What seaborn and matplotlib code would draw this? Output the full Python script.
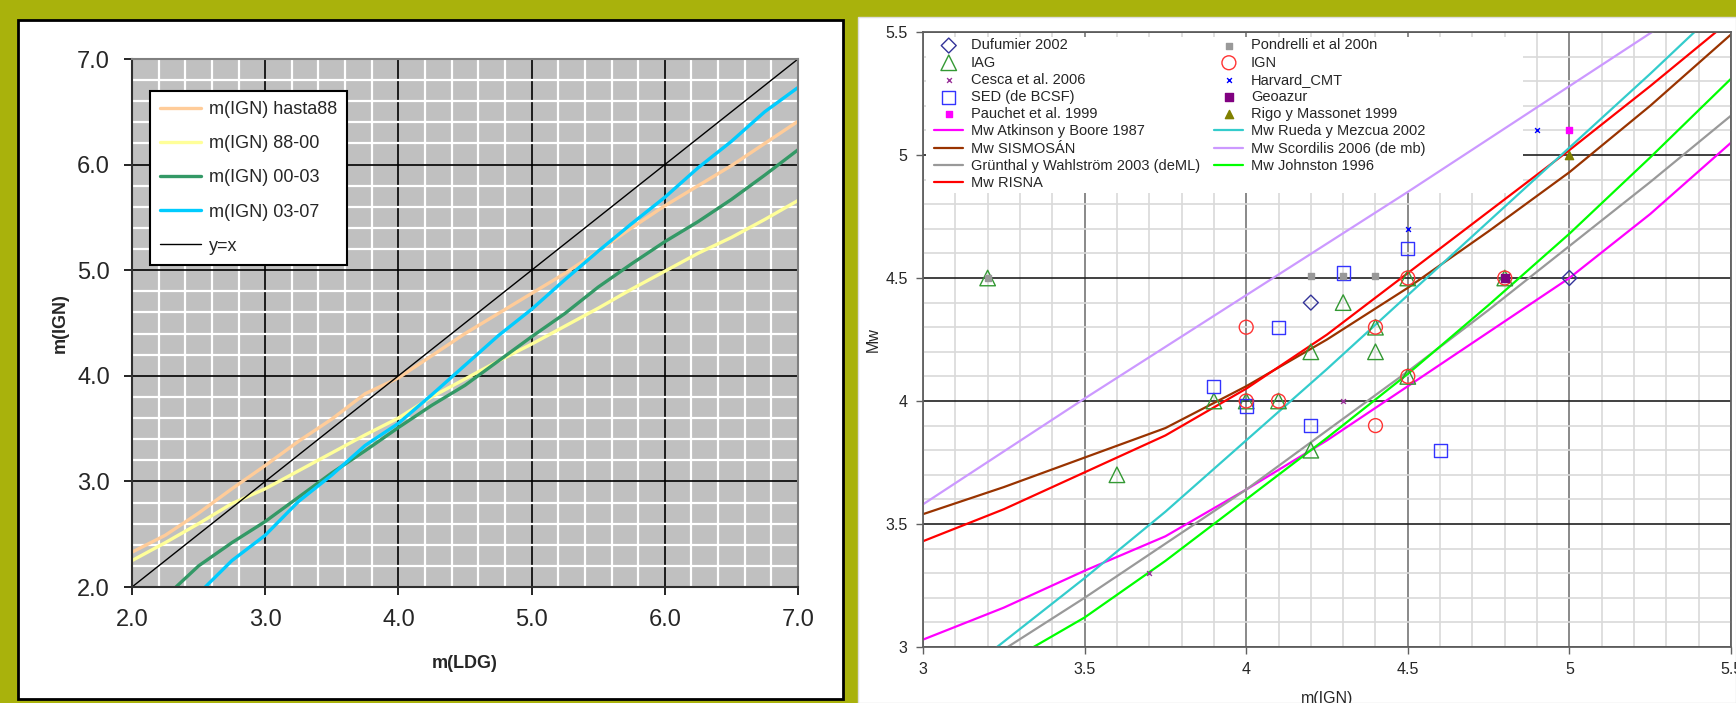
import numpy as np
import pandas as pd
import seaborn as sns
import matplotlib
matplotlib.use("Agg")
import matplotlib.pyplot as plt
from matplotlib.patches import Rectangle
from matplotlib.ticker import MultipleLocator, FuncFormatter

# ---- left chart: m(IGN) vs m(LDG) ----
hasta88_x = [2.0, 2.25, 2.5, 2.75, 3.0, 3.25, 3.5, 3.75, 4.0, 4.25, 4.5, 4.75, 5.0, 5.25, 5.5, 5.75, 6.0, 6.25, 6.5, 6.75, 7.0]
hasta88_y = [2.33, 2.49, 2.70, 2.93, 3.15, 3.38, 3.59, 3.83, 3.98, 4.19, 4.40, 4.59, 4.78, 4.97, 5.18, 5.40, 5.61, 5.80, 5.99, 6.20, 6.41]
y8800_x = [2.0, 2.25, 2.5, 2.75, 3.0, 3.25, 3.5, 3.75, 4.0, 4.25, 4.5, 4.75, 5.0, 5.25, 5.5, 5.75, 6.0, 6.25, 6.5, 6.75, 7.0]
y8800_y = [2.25, 2.42, 2.60, 2.79, 2.93, 3.10, 3.27, 3.44, 3.60, 3.80, 3.97, 4.14, 4.30, 4.47, 4.64, 4.82, 4.99, 5.16, 5.31, 5.48, 5.66]
y0003_x = [2.33, 2.5, 2.75, 3.0, 3.25, 3.5, 3.75, 4.0, 4.25, 4.5, 4.75, 5.0, 5.25, 5.5, 5.75, 6.0, 6.25, 6.5, 6.75, 7.0]
y0003_y = [2.0, 2.20, 2.42, 2.62, 2.85, 3.08, 3.29, 3.51, 3.72, 3.91, 4.14, 4.37, 4.59, 4.84, 5.06, 5.27, 5.46, 5.67, 5.90, 6.14]
y0307_x = [2.55, 2.75, 3.0, 3.25, 3.5, 3.75, 4.0, 4.25, 4.5, 4.75, 5.0, 5.25, 5.5, 5.75, 6.0, 6.25, 6.5, 6.75, 7.0]
y0307_y = [2.0, 2.25, 2.49, 2.81, 3.06, 3.34, 3.55, 3.82, 4.10, 4.38, 4.63, 4.91, 5.18, 5.44, 5.69, 5.97, 6.22, 6.50, 6.73]
yx_x = [2.0, 3.0, 4.0, 5.0, 6.0, 7.0]
yx_y = [2.0, 3.0, 4.0, 5.0, 6.0, 7.0]

# ---- right chart: Mw vs m(IGN) ----
atkinson_x = [3.0, 3.25, 3.5, 3.75, 4.0, 4.25, 4.5, 4.75, 5.0, 5.25, 5.5]
atkinson_y = [3.03, 3.16, 3.31, 3.45, 3.64, 3.84, 4.06, 4.28, 4.50, 4.76, 5.05]
sismosan_x = [3.0, 3.25, 3.5, 3.75, 4.0, 4.25, 4.5, 4.75, 5.0, 5.25, 5.5]
sismosan_y = [3.54, 3.65, 3.77, 3.89, 4.06, 4.25, 4.46, 4.69, 4.93, 5.20, 5.49]
grunthal_x = [3.25, 3.5, 3.75, 4.0, 4.25, 4.5, 4.75, 5.0, 5.25, 5.5]
grunthal_y = [2.99, 3.20, 3.42, 3.64, 3.88, 4.12, 4.37, 4.63, 4.89, 5.16]
risna_x = [3.0, 3.25, 3.5, 3.75, 4.0, 4.25, 4.5, 4.75, 5.0, 5.25, 5.5]
risna_y = [3.43, 3.56, 3.71, 3.86, 4.05, 4.27, 4.52, 4.77, 5.02, 5.28, 5.55]
rueda_x = [3.2, 3.5, 3.75, 4.0, 4.25, 4.5, 4.75, 5.0, 5.25, 5.5]
rueda_y = [2.97, 3.28, 3.55, 3.84, 4.13, 4.43, 4.73, 5.03, 5.33, 5.64]
scordilis_x = [3.0, 3.5, 4.0, 4.5, 5.0, 5.5]
scordilis_y = [3.58, 4.01, 4.43, 4.85, 5.28, 5.71]
johnston_x = [3.25, 3.5, 3.75, 4.0, 4.25, 4.5, 4.75, 5.0, 5.25, 5.5]
johnston_y = [2.93, 3.12, 3.35, 3.60, 3.85, 4.11, 4.39, 4.68, 4.99, 5.31]

dufumier_x = [4.2, 5.0]
dufumier_y = [4.4, 4.5]
iag_x = [3.2, 3.6, 3.9, 4.0, 4.1, 4.2, 4.2, 4.3, 4.4, 4.4, 4.5, 4.5, 4.8]
iag_y = [4.5, 3.7, 4.0, 4.0, 4.0, 4.2, 3.8, 4.4, 4.3, 4.2, 4.5, 4.1, 4.5]
cesca_x = [3.7, 4.3]
cesca_y = [3.3, 4.0]
sed_x = [3.9, 4.0, 4.1, 4.2, 4.3, 4.5, 4.6]
sed_y = [4.06, 3.98, 4.3, 3.9, 4.52, 4.62, 3.8]
pauchet_x = [5.0]
pauchet_y = [5.1]
pondrelli_x = [3.2, 4.2, 4.3, 4.4]
pondrelli_y = [4.5, 4.51, 4.51, 4.51]
ign_x = [4.0, 4.0, 4.1, 4.4, 4.4, 4.5, 4.5, 4.8]
ign_y = [4.3, 4.0, 4.0, 4.3, 3.9, 4.5, 4.1, 4.5]
harvard_x = [4.5, 4.9]
harvard_y = [4.7, 5.1]
geoazur_x = [4.8]
geoazur_y = [4.5]
rigo_x = [5.0]
rigo_y = [5.0]

OLIVE = "#A9B20C"

sns.set_style("white")
plt.rcParams["font.family"] = ["Liberation Sans", "DejaVu Sans"]

fig = plt.figure(figsize=(17.36, 7.03), dpi=100, facecolor=OLIVE)

# white panels behind each chart
fig.add_artist(Rectangle((18 / 1736, 1 - 699 / 703), 825 / 1736, 679 / 703,
                         transform=fig.transFigure, facecolor="white",
                         edgecolor="black", lw=2, zorder=-10))
fig.add_artist(Rectangle((858 / 1736, 0), 878 / 1736, 686 / 703,
                         transform=fig.transFigure, facecolor="white",
                         edgecolor="#DDDDDD", lw=1, zorder=-10))

# ================= left chart =================
ax1 = fig.add_axes([132 / 1736, 1 - 587 / 703, 666 / 1736, 528 / 703])
ax1.set_facecolor("#C0C0C0")

left_series = [
    (hasta88_x, hasta88_y, "m(IGN) hasta88", "#FFCC99", 2.4),
    (y8800_x, y8800_y, "m(IGN) 88-00", "#FFFF99", 2.4),
    (y0003_x, y0003_y, "m(IGN) 00-03", "#339966", 2.4),
    (y0307_x, y0307_y, "m(IGN) 03-07", "#00CCFF", 2.4),
    (yx_x, yx_y, "y=x", "black", 1.0),
]
for xs, ys, lab, col, lw in left_series:
    sns.lineplot(x=xs, y=ys, ax=ax1, color=col, lw=lw, label=lab,
                 sort=False, estimator=None)

ax1.set_xlim(2, 7)
ax1.set_ylim(2, 7)
ax1.xaxis.set_major_locator(MultipleLocator(1))
ax1.yaxis.set_major_locator(MultipleLocator(1))
ax1.xaxis.set_minor_locator(MultipleLocator(0.2))
ax1.yaxis.set_minor_locator(MultipleLocator(0.2))
ax1.xaxis.set_major_formatter(FuncFormatter(lambda v, p: f"{v:.1f}"))
ax1.yaxis.set_major_formatter(FuncFormatter(lambda v, p: f"{v:.1f}"))
ax1.set_axisbelow(True)
ax1.grid(which="minor", color="white", lw=1.6)
ax1.grid(which="major", color="black", lw=1.2)
ax1.tick_params(which="major", direction="out", length=6, width=1.2,
                color="black", labelsize=17, pad=10, bottom=True, left=True)
ax1.tick_params(which="minor", length=0)
for side in ["top", "right"]:
    ax1.spines[side].set_color("#808080")
    ax1.spines[side].set_linewidth(1.5)
for side in ["left", "bottom"]:
    ax1.spines[side].set_color("#303030")
    ax1.spines[side].set_linewidth(1.5)
ax1.set_xlabel("m(LDG)", fontsize=13, fontweight="bold", labelpad=17)
ax1.set_ylabel("m(IGN)", fontsize=13, fontweight="bold", labelpad=6)

leg1 = ax1.legend(loc="upper left", bbox_to_anchor=(0.027, 0.939),
                  borderaxespad=0, frameon=True, fancybox=False,
                  edgecolor="black", framealpha=1, fontsize=13,
                  handlelength=2.3, handletextpad=0.4, labelspacing=0.95,
                  borderpad=0.55)
leg1.get_frame().set_linewidth(1.5)

# ================= right chart =================
ax2 = fig.add_axes([923 / 1736, 1 - 647 / 703, 808 / 1736, 615 / 703])
ax2.set_facecolor("white")

curves = [
    (atkinson_x, atkinson_y, "Mw Atkinson y Boore 1987", "#FF00FF"),
    (sismosan_x, sismosan_y, "Mw SISMOSÁN", "#993300"),
    (grunthal_x, grunthal_y, "Grünthal y Wahlström 2003 (deML)", "#999999"),
    (risna_x, risna_y, "Mw RISNA", "#FF0000"),
    (rueda_x, rueda_y, "Mw Rueda y Mezcua 2002", "#33CCCC"),
    (scordilis_x, scordilis_y, "Mw Scordilis 2006 (de mb)", "#CC99FF"),
    (johnston_x, johnston_y, "Mw Johnston 1996", "#00FF00"),
]
for xs, ys, lab, col in curves:
    sns.lineplot(x=xs, y=ys, ax=ax2, color=col, lw=1.6, label=lab,
                 sort=False, estimator=None, zorder=2)

# open markers
open_pts = [
    (dufumier_x, dufumier_y, "Dufumier 2002", "#333399", "D", 58),
    (iag_x, iag_y, "IAG", "#339933", "^", 125),
    (sed_x, sed_y, "SED (de BCSF)", "#3333FF", "s", 90),
    (ign_x, ign_y, "IGN", "#FF3333", "o", 100),
]
for xs, ys, lab, col, m, s in open_pts:
    sns.scatterplot(x=xs, y=ys, ax=ax2, marker=m, s=s, color=col,
                    facecolors="none", edgecolor=col, linewidth=1.0,
                    label=lab, zorder=3)

# small filled markers
small_pts = [
    (cesca_x, cesca_y, "Cesca et al. 2006", "#993399", "x", 12),
    (pauchet_x, pauchet_y, "Pauchet et al. 1999", "#FF00FF", "s", 25),
    (pondrelli_x, pondrelli_y, "Pondrelli et al 200n", "#999999", "s", 18),
    (harvard_x, harvard_y, "Harvard_CMT", "#0000FF", "x", 12),
    (geoazur_x, geoazur_y, "Geoazur", "#800080", "s", 30),
    (rigo_x, rigo_y, "Rigo y Massonet 1999", "#808000", "^", 35),
]
for xs, ys, lab, col, m, s in small_pts:
    sns.scatterplot(x=xs, y=ys, ax=ax2, marker=m, s=s, color=col,
                    edgecolor=col, linewidth=1.0, label=lab, zorder=4)

ax2.set_xlim(3, 5.5)
ax2.set_ylim(3, 5.5)
ax2.xaxis.set_major_locator(MultipleLocator(0.5))
ax2.yaxis.set_major_locator(MultipleLocator(0.5))
ax2.xaxis.set_minor_locator(MultipleLocator(0.1))
ax2.yaxis.set_minor_locator(MultipleLocator(0.1))
ax2.xaxis.set_major_formatter(FuncFormatter(lambda v, p: f"{v:g}"))
ax2.yaxis.set_major_formatter(FuncFormatter(lambda v, p: f"{v:g}"))
ax2.set_axisbelow(True)
ax2.grid(which="minor", color="#D9D9D9", lw=1.2)
ax2.xaxis.grid(True, which="major", color="#808080", lw=1.3)
ax2.yaxis.grid(True, which="major", color="#202020", lw=1.2)
ax2.tick_params(which="major", direction="out", length=5, width=1,
                color="#606060", labelsize=11.5, pad=6, bottom=True, left=True)
ax2.tick_params(which="minor", length=0)
for side in ax2.spines:
    ax2.spines[side].set_color("#606060")
    ax2.spines[side].set_linewidth(1.3)
ax2.set_xlabel("m(IGN)", fontsize=11.5, labelpad=10)
ax2.set_ylabel("Mw", fontsize=11.5, labelpad=3)

# white legend area hiding the gridlines under the legend
ax2.add_patch(Rectangle((0.004, 0.738), 0.739, 0.254, transform=ax2.transAxes,
                        facecolor="white", edgecolor="none", zorder=1))

order = ["Dufumier 2002", "IAG", "Cesca et al. 2006", "SED (de BCSF)",
         "Pauchet et al. 1999", "Mw Atkinson y Boore 1987", "Mw SISMOSÁN",
         "Grünthal y Wahlström 2003 (deML)", "Mw RISNA",
         "Pondrelli et al 200n", "IGN", "Harvard_CMT", "Geoazur",
         "Rigo y Massonet 1999", "Mw Rueda y Mezcua 2002",
         "Mw Scordilis 2006 (de mb)", "Mw Johnston 1996"]
handles, labels = ax2.get_legend_handles_labels()
hmap = dict(zip(labels, handles))
leg2 = ax2.legend([hmap[l] for l in order], order, ncol=2, loc="upper left",
                  bbox_to_anchor=(0.012, 0.992), borderaxespad=0,
                  frameon=False, fontsize=10.5, handlelength=2.0,
                  handletextpad=0.5, labelspacing=0.22, columnspacing=1.0,
                  borderpad=0.1)
leg2.set_zorder(1.5)

fig.savefig("out.png", dpi=100, facecolor=OLIVE)
